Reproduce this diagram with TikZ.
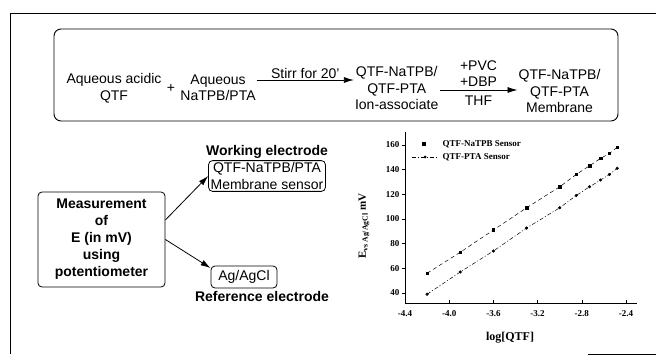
\documentclass[tikz,border=0pt]{standalone}
\usepackage{fontspec}
\setmainfont{Liberation Sans}
\newfontfamily\plotserif{Liberation Serif}
\usetikzlibrary{arrows.meta,positioning,plotmarks}

\begin{document}
\begin{tikzpicture}[
    x=1pt, y=-1pt,
    node distance=3pt and 3pt,
    panel/.style={draw, line width=0.9pt, rounded corners=7pt},
    txt/.style={align=center, inner sep=1pt, font=\fontsize{14}{16.5}\selectfont},
    elbox/.style={draw, line width=0.8pt, rounded corners=4pt, align=center,
        inner sep=2pt, font=\fontsize{14}{16.5}\selectfont},
    boldtxt/.style={inner sep=1pt, font=\bfseries\fontsize{14}{16}\selectfont},
    arrow/.style={-{Latex[length=10pt,width=6pt]}, line width=0.8pt},
    ticklbl/.style={inner sep=1.5pt, font=\plotserif\bfseries\fontsize{9}{10}\selectfont},
    natline/.style={dash pattern=on 4pt off 3pt, line width=0.5pt},
    ptaline/.style={dash pattern=on 4pt off 2pt on 1pt off 2pt, line width=0.5pt}
]
\useasboundingbox (0,0) rectangle (656,356);

% outer frame
\draw[line width=0.9pt] (656,13) -- (10,13) -- (10,354);
\draw[line width=0.9pt] (588,354) -- (656,354);

% membrane preparation
\node[panel, minimum width=564pt, minimum height=92pt] (panel) at (336,75) {};
\node[txt] (acid) at (114,88) {Aqueous acidic\\QTF};
\node[txt, right=of acid] (plus) {+};
\node[txt, right=of plus] (salt) {Aqueous\\NaTPB/PTA};
\node[txt, right=97pt of salt] (assoc) {QTF-NaTPB/\\QTF-PTA\\Ion-associate};
\node[txt, right=78pt of assoc, yshift=-3pt] (memb) {QTF-NaTPB/\\QTF-PTA\\Membrane};

\draw[arrow] ([yshift=8pt]salt.east) -- ([yshift=8pt]assoc.west)
    node[txt, midway, above] (stir) {Stirr for 20'};
\draw[arrow] ([yshift=-2pt]assoc.east) -- ([yshift=-2pt]assoc.east -| memb.west)
    node[txt, midway, above=2pt] (addit) {+PVC\\+DBP}
    node[txt, midway, below=4pt] (solv) {THF};

% electrodes
\node[elbox] (sensor) at (267,176) {QTF-NaTPB/PTA\\Membrane sensor};
\node[boldtxt, above=1pt of sensor] (work) {Working electrode};
\node[elbox, font=\bfseries\fontsize{14}{17}\selectfont,
    minimum width=127pt, minimum height=95pt] (meas) at (101.5,239.5)
    {Measurement\\of\\E (in mV)\\using\\potentiometer};
\node[elbox, minimum width=66pt, minimum height=22pt] (ag) at (244,277) {Ag/AgCl};
\node[boldtxt, below=2pt of ag, xshift=18pt] (ref) {Reference electrode};

\draw[arrow] (meas.17) -- (sensor.west);
\draw[arrow] (meas.east) -- (ag.165);

% calibration plot
\begin{scope}[shift={(891.2,342.4)}, x=110.5pt, y=1.235pt]
  \draw[line width=0.7pt] (-4.4,170) -- (-4.4,31.9) -- (-2.3,31.9);
  \foreach \v in {-4.4,-4.0,-3.6,-3.2,-2.8,-2.4} {
    \draw[line width=0.6pt] (\v,31.9) -- ++(0pt,3pt);
    \node[ticklbl, below=6pt] at (\v,31.9) {\v};
  }
  \foreach \m in {40,60,...,160} {
    \draw[line width=0.6pt] (-4.4,\m) -- ++(-3pt,0pt);
    \node[ticklbl, left=4pt] at (-4.4,\m) {\m};
  }
  \draw[natline] plot[mark=square*, mark size=1.3pt, mark options={solid}]
    coordinates {(-4.2,56) (-3.9,73) (-3.6,91) (-3.3,109) (-3.0,126)
      (-2.85,136) (-2.73,143) (-2.63,149) (-2.55,153) (-2.48,158)};
  \draw[ptaline] plot[mark=*, mark size=1.3pt, mark options={solid}]
    coordinates {(-4.2,39) (-3.9,57) (-3.6,74) (-3.3,92.6) (-3.0,109)
      (-2.85,119) (-2.73,126) (-2.63,131.5) (-2.55,136) (-2.48,141)};
\end{scope}

\node[font=\plotserif\bfseries\fontsize{12}{14}\selectfont] (xlbl) at (510,338) {log[QTF]};
\node[rotate=90, font=\plotserif\bfseries\fontsize{11}{13}\selectfont] (ylbl) at (364,226)
    {E\textsubscript{vs Ag/AgCl} mV};

% legend
\node[fill, minimum size=3.4pt, inner sep=0pt] (legmark) at (424,144) {};
\node[ticklbl, anchor=west] (legnat) at (441,144) {QTF-NaTPB Sensor};
\draw[ptaline] (412,157) -- (438,157);
\node[circle, fill, minimum size=3pt, inner sep=0pt] (legdot) at (425,157) {};
\node[ticklbl, anchor=west] (legpta) at (441,157) {QTF-PTA Sensor};
\end{tikzpicture}
\end{document}
